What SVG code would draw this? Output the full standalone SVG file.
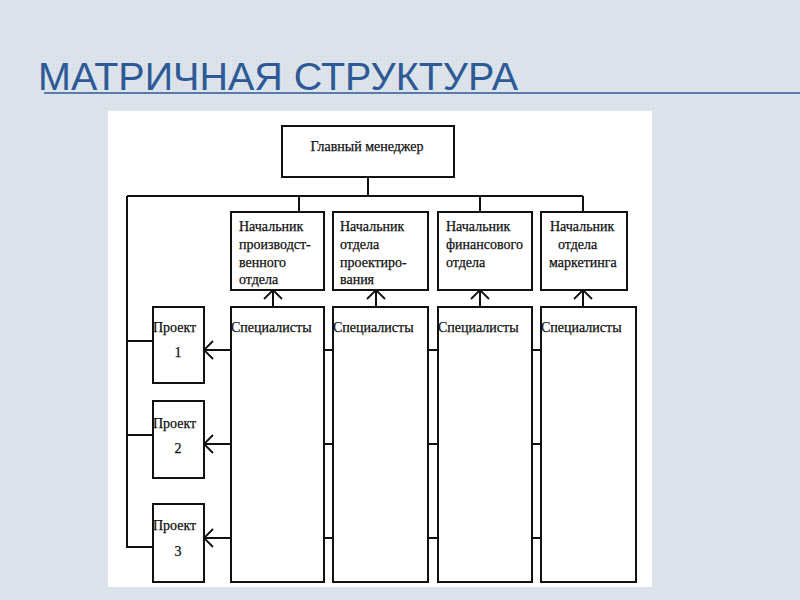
<svg xmlns="http://www.w3.org/2000/svg" width="800" height="600" viewBox="0 0 800 600">
<defs>
<style>
.box{fill:#fff;stroke:#111;stroke-width:2}
.ln{fill:none;stroke:#111;stroke-width:2}
.ah{fill:none;stroke:#111;stroke-width:1.8}
.t{font-family:"Liberation Serif","Times New Roman",serif;font-size:14px;fill:#111;stroke:#111;stroke-width:0.25}
.title{font-family:"Liberation Sans",Arial,sans-serif;font-size:39px;fill:#2d5a96}
</style>
<pattern id="tex" width="4" height="4" patternUnits="userSpaceOnUse">
<rect width="4" height="4" fill="#dbe2e9"/>
<rect width="1" height="1" fill="#d2dae3"/>
<rect x="2" y="2" width="1" height="1" fill="#e3e9ef"/>
</pattern>
</defs>
<rect width="800" height="600" fill="url(#tex)"/>
<text class="title" x="38" y="90" textLength="480" lengthAdjust="spacingAndGlyphs">МАТРИЧНАЯ СТРУКТУРА</text>
<line x1="44" y1="93" x2="800" y2="93" stroke="#2d5a96" stroke-width="1.5"/>
<rect x="108" y="111" width="544" height="476" fill="#fff"/>

<g id="connectors">
<path class="ln" d="M368 177 V196 M127 196 H583 M299 196 V212 M480 196 V212 M583 196 V212"/>
<path class="ln" d="M127 196 V547 H153 M127 341 H153 M127 435 H153"/>
<path class="ln" d="M273 307 V290 M376 307 V290 M480 307 V290 M583 307 V290"/>
<path class="ah" d="M264 299 L273 290 L282 299 M367 299 L376 290 L385 299 M471 299 L480 290 L489 299 M574 299 L583 290 L592 299"/>
<path class="ln" d="M231 350 H204 M231 444 H204 M231 538 H204"/>
<path class="ah" d="M213 341 L204 350 L213 359 M213 435 L204 444 L213 453 M213 529 L204 538 L213 547"/>
<path class="ln" d="M324 350 H333 M428 350 H438 M532 350 H541 M324 444 H333 M428 444 H438 M532 444 H541 M324 538 H333 M428 538 H438 M532 538 H541"/>
</g>

<g id="main">
<rect class="box" x="282" y="126" width="172" height="51"/>
<text class="t" x="367" y="151" text-anchor="middle">Главный менеджер</text>
</g>

<g id="head1">
<rect class="box" x="231" y="212" width="93" height="78"/>
<text class="t" x="239" y="231">Начальник</text>
<text class="t" x="239" y="249">производст-</text>
<text class="t" x="239" y="267">венного</text>
<text class="t" x="239" y="284">отдела</text>
</g>
<g id="head2">
<rect class="box" x="333" y="212" width="95" height="78"/>
<text class="t" x="340" y="231">Начальник</text>
<text class="t" x="340" y="249">отдела</text>
<text class="t" x="340" y="267">проектиро-</text>
<text class="t" x="340" y="284">вания</text>
</g>
<g id="head3">
<rect class="box" x="438" y="212" width="94" height="78"/>
<text class="t" x="446" y="231">Начальник</text>
<text class="t" x="446" y="249">финансового</text>
<text class="t" x="446" y="267">отдела</text>
</g>
<g id="head4">
<rect class="box" x="541" y="212" width="86" height="78"/>
<text class="t" x="550" y="231">Начальник</text>
<text class="t" x="558" y="249">отдела</text>
<text class="t" x="549" y="267">маркетинга</text>
</g>

<g id="spec1">
<rect class="box" x="231" y="307" width="93" height="275"/>
<text class="t" x="231" y="332">Специалисты</text>
</g>
<g id="spec2">
<rect class="box" x="333" y="307" width="95" height="275"/>
<text class="t" x="333" y="332">Специалисты</text>
</g>
<g id="spec3">
<rect class="box" x="438" y="307" width="94" height="275"/>
<text class="t" x="438" y="332">Специалисты</text>
</g>
<g id="spec4">
<rect class="box" x="541" y="307" width="95" height="275"/>
<text class="t" x="541" y="332">Специалисты</text>
</g>

<g id="proj1">
<rect class="box" x="153" y="307" width="51" height="76"/>
<text class="t" x="153" y="332">Проект</text>
<text class="t" x="178" y="357" text-anchor="middle">1</text>
</g>
<g id="proj2">
<rect class="box" x="153" y="401" width="51" height="77"/>
<text class="t" x="153" y="428">Проект</text>
<text class="t" x="178" y="453" text-anchor="middle">2</text>
</g>
<g id="proj3">
<rect class="box" x="153" y="504" width="51" height="78"/>
<text class="t" x="153" y="530">Проект</text>
<text class="t" x="178" y="556" text-anchor="middle">3</text>
</g>
</svg>
